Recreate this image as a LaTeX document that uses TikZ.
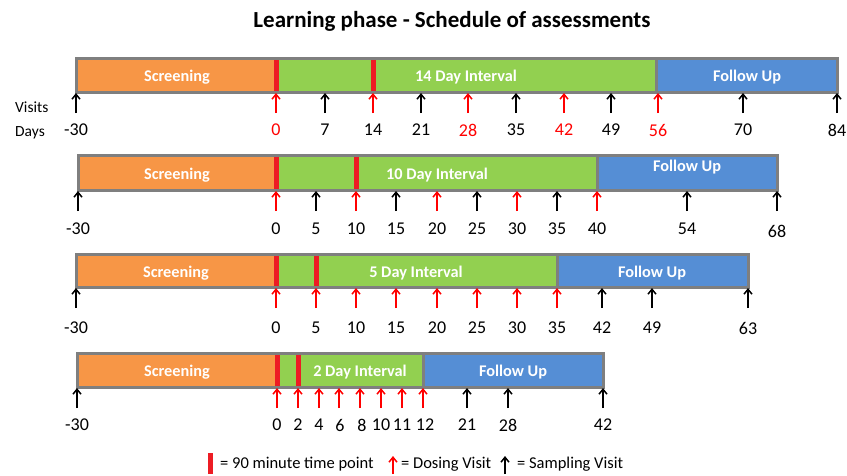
\documentclass[tikz,border=0pt]{standalone}
\usepackage{fontspec}
\setmainfont{Carlito}
\usetikzlibrary{arrows.meta}
\definecolor{scrorange}{HTML}{F79646}
\definecolor{intgreen}{HTML}{92D050}
\definecolor{fupblue}{HTML}{558ED5}
\definecolor{barframe}{HTML}{7F7F7F}
\definecolor{dosered}{HTML}{FF0000}
\definecolor{markred}{HTML}{ED1C24}
\tikzset{
  frame/.style={draw=barframe, line width=3pt},
  barlabel/.style={text=white, anchor=base, inner sep=0pt, font=\bfseries\fontsize{16.3}{18}\selectfont},
  daylabel/.style={inner sep=0pt, font=\fontsize{18}{20}\selectfont},
  sidelabel/.style={anchor=base west, inner sep=0pt, font=\fontsize{15.5}{18}\selectfont},
  keylabel/.style={anchor=base west, inner sep=0pt, font=\fontsize{16.5}{19}\selectfont},
  visit/.style={-{Straight Barb[length=5pt,width=8pt]}, line width=1.5pt},
  dose/.style={visit, draw=dosered},
  sample/.style={visit, draw=black},
  redmark/.style={fill=markred},
}

\begin{document}
\begin{tikzpicture}[x=1pt, y=-1pt]
  \useasboundingbox (0,0) rectangle (847,475);

  \node[anchor=base, inner sep=0pt, font=\bfseries\fontsize{23}{26}\selectfont] (title) at (452,27) {Learning phase - Schedule of assessments};

  %%%%% ROW 1 : 14 day interval %%%%%
  \fill[scrorange] (76,58) rectangle (276,92);
  \fill[intgreen] (276,58) rectangle (656,92);
  \fill[fupblue] (656,58) rectangle (837,92);
  \draw[frame] (76,58) rectangle (837,92);
  \draw[frame] (656,58) -- (656,92);
  \fill[redmark] (273.5,59.5) rectangle (278.5,90.5);
  \fill[redmark] (370.5,59.5) rectangle (375.5,90.5);
  \node[barlabel] (scr1) at (177,81) {Screening};
  \node[barlabel] (int1) at (466,81) {14 Day Interval};
  \node[barlabel] (fup1) at (747,81) {Follow Up};

  \node[sidelabel] (visits) at (15,112) {Visits};
  \node[sidelabel] (days) at (15,136) {Days};

  \foreach \x/\d in {76/-30, 325/7, 421/21, 516/35, 611/49, 743/70, 837/84}
    {\draw[sample] (\x,113) -- (\x,93);
     \node[daylabel] (r1-\d) at (\x,130) {\d};}
  \foreach \x/\d in {276/0, 468/28, 564/42, 658/56}
    {\draw[dose] (\x,113) -- (\x,93);
     \node[daylabel, text=dosered] (r1-\d) at (\x,130) {\d};}
  \draw[dose] (373,113) -- (373,93);
  \node[daylabel] (r1-14) at (373,130) {14};

  %%%%% ROW 2 : 10 day interval %%%%%
  \fill[scrorange] (78,155) rectangle (276,190);
  \fill[intgreen] (276,155) rectangle (597,190);
  \fill[fupblue] (597,155) rectangle (777,190);
  \draw[frame] (78,155) rectangle (777,190);
  \draw[frame] (597,155) -- (597,190);
  \fill[redmark] (273.5,156.5) rectangle (278.5,188.5);
  \fill[redmark] (353.5,156.5) rectangle (358.5,188.5);
  \node[barlabel] (scr2) at (177,179) {Screening};
  \node[barlabel] (int2) at (437,179) {10 Day Interval};
  \node[barlabel] (fup2) at (687,171) {Follow Up};

  \foreach \x/\d in {78/-30, 316/5, 396/15, 477/25, 557/35, 687/54}
    {\draw[sample] (\x,211) -- (\x,191);
     \node[daylabel] (r2-\d) at (\x,229) {\d};}
  \draw[sample] (777,211) -- (777,191);
  \node[daylabel] (r2-68) at (777,231) {68};
  \foreach \x/\d in {276/0, 356/10, 437/20, 517/30, 597/40}
    {\draw[dose] (\x,211) -- (\x,191);
     \node[daylabel] (r2-\d) at (\x,229) {\d};}

  %%%%% ROW 3 : 5 day interval %%%%%
  \fill[scrorange] (76,254) rectangle (276,287);
  \fill[intgreen] (276,254) rectangle (557,287);
  \fill[fupblue] (557,254) rectangle (748,287);
  \draw[frame] (76,254) rectangle (748,287);
  \draw[frame] (557,254) -- (557,287);
  \fill[redmark] (273.5,255.5) rectangle (278.5,285.5);
  \fill[redmark] (313.5,255.5) rectangle (318.5,285.5);
  \node[barlabel] (scr3) at (176,277) {Screening};
  \node[barlabel] (int3) at (416,277) {5 Day Interval};
  \node[barlabel] (fup3) at (652,277) {Follow Up};

  \foreach \x/\d in {76/-30, 602/42, 652/49, 748/63}
    {\draw[sample] (\x,308) -- (\x,288);
     \node[daylabel] (r3-\d) at (\x,328) {\d};}
  \foreach \x/\d in {276/0, 316/5, 356/10, 396/15, 437/20, 477/25, 517/30, 557/35}
    {\draw[dose] (\x,308) -- (\x,288);
     \node[daylabel] (r3-\d) at (\x,328) {\d};}

  %%%%% ROW 4 : 2 day interval %%%%%
  \fill[scrorange] (77,353) rectangle (277,387);
  \fill[intgreen] (277,353) rectangle (423,387);
  \fill[fupblue] (423,353) rectangle (603,387);
  \draw[frame] (77,353) rectangle (603,387);
  \draw[frame] (423,353) -- (423,387);
  \fill[redmark] (274.5,354.5) rectangle (279.5,385.5);
  \fill[redmark] (295.5,354.5) rectangle (300.5,385.5);
  \node[barlabel] (scr4) at (177,376) {Screening};
  \node[barlabel] (int4) at (360,376) {2 Day Interval};
  \node[barlabel] (fup4) at (513,376) {Follow Up};

  \foreach \x/\d in {77/-30, 467/21, 508/28, 603/42}
    {\draw[sample] (\x,408) -- (\x,388);
     \node[daylabel] (r4-\d) at (\x,425) {\d};}
  \foreach \x/\d/\l in {277/0/277, 298/2/298, 319/4/319, 339/6/340, 360/8/362, 381/10/381, 402/11/402, 423/12/425}
    {\draw[dose] (\x,408) -- (\x,388);
     \node[daylabel] (r4-\d) at (\l,425) {\d};}

  %%%%% KEY %%%%%
  \fill[redmark] (208,453) rectangle (213,474);
  \node[keylabel] (key1) at (220,468) {= 90 minute time point};
  \draw[dose] (393,474) -- (393,456);
  \node[keylabel] (key2) at (401,468) {= Dosing Visit};
  \draw[sample] (505,474) -- (505,456);
  \node[keylabel] (key3) at (517,468) {= Sampling Visit};
\end{tikzpicture}
\end{document}
